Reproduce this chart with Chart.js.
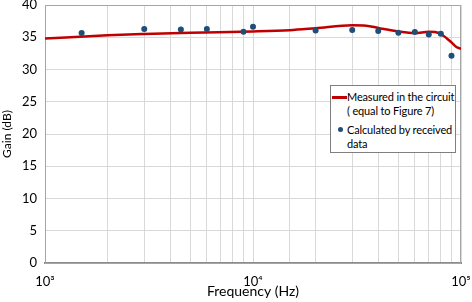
<!DOCTYPE html>
<html>
<head>
<meta charset="utf-8">
<script src="https://cdn.jsdelivr.net/npm/chart.js@4/dist/chart.umd.min.js"></script>
<style>
  html, body { margin: 0; padding: 0; background: #fff; }
  #wrap { position: relative; width: 472px; height: 302px; }
  #legend {
    position: absolute; left: 330px; top: 85px; width: 126px; height: 68px;
    border: 1px solid #7f7f7f; background: #fff; box-sizing: border-box;
    font-family: Lato, 'Open Sans', sans-serif; font-size: 11px; color: #000;
    line-height: 13.5px; white-space: nowrap; letter-spacing: -0.15px;
  }
  .row { position: absolute; left: 16px; }
  .swatch-line { position: absolute; left: 1px; top: 10px; width: 15px; height: 2.5px; background: #c00000; }
  .swatch-dot { position: absolute; left: 7px; top: 41px; width: 5px; height: 5px; border-radius: 50%; background: #1f4e79; }
</style>
</head>
<body>
<div id="wrap">
  <canvas id="c" width="472" height="302"></canvas>
  <div id="legend"></div>
</div>
<script>
// Measured curve (frequency in Hz, gain in dB)
const freqMeasured = [1000, 2000, 3000, 5000, 10000, 15000, 20000, 30000, 35000, 40000, 50000, 60000, 70000, 75000, 80000, 85000, 90000, 95000, 100000];
const gainMeasured = [34.8, 35.3, 35.5, 35.7, 35.9, 36.1, 36.4, 36.85, 36.8, 36.45, 35.9, 35.65, 35.85, 35.8, 35.5, 34.9, 34.2, 33.5, 33.2];
// Calculated points
const freqCalc = [1500, 3000, 4500, 6000, 9000, 10000, 20000, 30000, 40000, 50000, 60000, 70000, 80000, 90000];
const gainCalc = [35.66, 36.28, 36.2, 36.28, 35.86, 36.64, 36.06, 36.12, 35.97, 35.7, 35.8, 35.44, 35.55, 32.14];
// Tick labels
const xTickValues = [1000, 10000, 100000];
const xTickLabels = ['10³', '10⁴', '10⁵'];
const legendLabels = [['Measured in the circuit', '( equal to Figure 7)'], ['Calculated by received', 'data']];

// Legend (HTML overlay)
const lg = document.getElementById('legend');
lg.innerHTML =
  '<div class="swatch-line"></div>' +
  '<div class="row" style="top:4px">' + legendLabels[0][0] + '</div>' +
  '<div class="row" style="top:18px">' + legendLabels[0][1] + '</div>' +
  '<div class="swatch-dot"></div>' +
  '<div class="row" style="top:37px">' + legendLabels[1][0] + '</div>' +
  '<div class="row" style="top:51px">' + legendLabels[1][1] + '</div>';

const outline = {
  id: 'outline',
  beforeDatasetsDraw(chart) {
    const a = chart.chartArea, ctx = chart.ctx;
    ctx.save();
    ctx.strokeStyle = '#a6a6a6';
    ctx.lineWidth = 1;
    ctx.strokeRect(a.left + 0.5, a.top + 0.5, a.right - a.left - 1, a.bottom - a.top);
    ctx.restore();
  }
};

const FONT = "Lato, 'DejaVu Sans', sans-serif";

new Chart(document.getElementById('c'), {
  data: {
    datasets: [
      {
        type: 'scatter',
        data: freqCalc.map((f, i) => ({ x: f, y: gainCalc[i] })),
        backgroundColor: '#1f4e79',
        borderWidth: 0,
        pointRadius: 3,
        order: 0
      },
      {
        type: 'line',
        data: freqMeasured.map((f, i) => ({ x: f, y: gainMeasured[i] })),
        borderColor: '#c00000',
        borderWidth: 2.5,
        pointRadius: 0,
        cubicInterpolationMode: 'monotone',
        fill: false,
        order: 1
      }
    ]
  },
  options: {
    responsive: false,
    animation: false,
    events: [],
    layout: { padding: { top: 5, right: 11, left: 0, bottom: 0 } },
    plugins: { legend: { display: false }, tooltip: { enabled: false } },
    scales: {
      x: {
        type: 'logarithmic',
        min: 1000, max: 100000,
        grid: { color: '#d9d9d9', drawTicks: false },
        border: { color: '#8c8c8c', width: 2 },
        ticks: {
          autoSkip: false, maxRotation: 0, padding: 11,
          color: '#000', font: { family: FONT, size: 13 },
          callback: (v) => { const i = xTickValues.indexOf(v); return i >= 0 ? xTickLabels[i] : ''; }
        },
        title: { display: true, text: 'Frequency (Hz)', color: '#000', font: { family: FONT, size: 14 }, padding: { top: 2, bottom: 2 } },
        afterFit: (s) => { s.height = 39; s.paddingLeft = 0; s.paddingRight = 0; }
      },
      y: {
        min: 0, max: 40,
        grid: { color: '#d9d9d9', drawTicks: false },
        border: { color: '#a6a6a6', width: 1 },
        ticks: { stepSize: 5, padding: 8, color: '#000', font: { family: FONT, size: 13 } },
        title: { display: true, text: 'Gain (dB)', color: '#000', font: { family: FONT, size: 12 }, padding: { top: 0, bottom: 0 } },
        afterFit: (s) => { s.width = 45; s.paddingTop = 0; s.paddingBottom = 0; }
      }
    }
  },
  plugins: [outline]
});
</script>
</body>
</html>
